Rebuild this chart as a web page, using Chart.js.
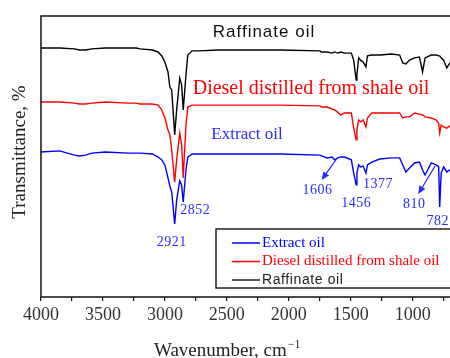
<!DOCTYPE html>
<html>
<head>
<meta charset="utf-8">
<script src="https://cdn.jsdelivr.net/npm/chart.js@4.4.1/dist/chart.umd.min.js"></script>
<style>
  html, body { margin: 0; padding: 0; background: #fff; overflow: hidden; }
  #wrap { width: 500px; height: 358px; }
</style>
</head>
<body>
<div id="wrap"><canvas id="ftirChart" width="500" height="358"></canvas></div>
<script>
// wavenumber grid shared by the three spectra, cm-1
const wavenumbers = [
  4000, 3850, 3730, 3690, 3640, 3590, 3480, 3300, 3230, 3200,
  3100, 3055, 3025, 3000, 2975, 2960, 2945, 2921, 2905, 2880,
  2865, 2852, 2830, 2815, 2780, 2720, 2570, 2310, 2070, 1750,
  1735, 1690, 1650, 1630, 1606, 1580, 1550, 1495, 1476, 1456,
  1450, 1436, 1420, 1400, 1377, 1365, 1330, 1265, 1170, 1105,
  1080, 1055, 1025, 985, 945, 920, 900, 850, 810, 790,
  782, 770, 750, 725, 700, 650, 600, 550, 500, 450,
  400
];

// transmittance (stacked, %)
const raffinateOil = [
  88.6, 88.6, 88.3, 87.9, 87.9, 88.3, 88.6, 88.6, 88.6, 88.3,
  87.9, 87.2, 85.8, 83.6, 80.1, 74.7, 73.7, 57.7, 66.6, 77.9,
  75.5, 66.6, 79.0, 86.1, 87.6, 87.6, 87.9, 87.9, 87.9, 87.6,
  87.2, 87.2, 86.8, 87.2, 86.8, 87.2, 86.8, 86.8, 84.3, 77.2,
  79.0, 85.1, 84.3, 83.6, 81.9, 85.8, 86.1, 86.1, 86.5, 86.1,
  83.3, 82.9, 84.3, 85.1, 85.4, 80.1, 85.1, 86.1, 86.1, 85.8,
  85.8, 85.1, 84.3, 81.5, 83.3, 84.3, 85.1, 85.4, 85.8, 85.4,
  85.1
];

const dieselOil = [
  69.4, 69.4, 69.0, 68.7, 68.7, 69.0, 69.4, 69.0, 69.0, 68.7,
  68.7, 68.3, 66.6, 63.7, 59.4, 57.7, 52.3, 40.9, 48.8, 58.4,
  54.1, 42.4, 61.2, 67.6, 68.3, 68.3, 68.3, 68.3, 68.3, 68.0,
  67.6, 67.6, 66.9, 66.6, 65.8, 64.8, 65.5, 65.5, 60.1, 55.9,
  59.4, 63.0, 62.3, 63.0, 60.5, 63.7, 65.5, 65.5, 65.5, 65.5,
  63.7, 64.1, 64.1, 65.5, 65.1, 64.8, 64.1, 63.7, 63.0, 61.9,
  58.4, 61.2, 60.5, 60.1, 60.9, 61.6, 62.3, 62.6, 63.0, 62.6,
  62.3
];

const extractOil = [
  51.6, 52.0, 50.5, 50.2, 50.5, 51.2, 51.6, 51.2, 51.2, 51.2,
  50.9, 49.8, 48.8, 47.0, 42.4, 39.5, 37.4, 26.0, 34.5, 41.3,
  39.9, 33.8, 45.2, 49.8, 50.9, 50.9, 50.9, 50.9, 50.9, 50.5,
  50.2, 49.5, 49.8, 48.8, 49.5, 49.8, 49.8, 48.8, 44.1, 39.9,
  44.1, 47.0, 46.3, 46.6, 44.1, 47.0, 48.0, 49.1, 49.5, 49.5,
  47.0, 44.5, 45.9, 47.7, 48.0, 45.2, 43.4, 47.7, 47.0, 46.3,
  32.0, 44.1, 46.3, 44.5, 45.2, 45.9, 46.6, 47.0, 47.3, 47.0,
  46.6
];

// assigned bands of the extract oil
const peakBands = [2921, 2852, 1606, 1456, 1377, 810, 782];
// bands marked with an arrow instead of sitting under the dip
const arrowBands = [1606, 810];

const seriesNames = ['Extract oil', 'Diesel distilled from shale oil', 'Raffinate oil'];
const seriesColors = ['#0000ff', '#ff0000', '#222222'];

const serif = '"Liberation Serif", "Times New Roman", serif';
const sans = '"Liberation Sans", Arial, sans-serif';

const toPoints = (vals) => wavenumbers.map((w, i) => ({ x: w, y: vals[i] }));

// label placement relative to each band (dx from the band, y in pixels)
const bandLabelPos = {
  2921: [-3, 242], 2852: [12, 210], 1606: [-20, 190], 1456: [0, 203],
  1377: [12, 184], 810: [-22, 204], 782: [-2, 221]
};

function drawArrow(ctx, x0, y0, x1, y1) {
  const ang = Math.atan2(y1 - y0, x1 - x0);
  ctx.beginPath();
  ctx.moveTo(x0, y0);
  ctx.lineTo(x1 - 5 * Math.cos(ang), y1 - 5 * Math.sin(ang));
  ctx.stroke();
  ctx.beginPath();
  ctx.moveTo(x1, y1);
  ctx.lineTo(x1 - 8 * Math.cos(ang) + 3.5 * Math.sin(ang), y1 - 8 * Math.sin(ang) - 3.5 * Math.cos(ang));
  ctx.lineTo(x1 - 8 * Math.cos(ang) - 3.5 * Math.sin(ang), y1 - 8 * Math.sin(ang) + 3.5 * Math.cos(ang));
  ctx.closePath();
  ctx.fill();
}

const decorations = {
  id: 'decorations',
  afterDraw(chart) {
    const { ctx, chartArea: a, scales: { x, y } } = chart;
    ctx.save();

    // frame: left, top and bottom edges
    ctx.strokeStyle = '#111';
    ctx.lineWidth = 1.5;
    ctx.beginPath();
    ctx.moveTo(a.right, a.top);
    ctx.lineTo(a.left, a.top);
    ctx.lineTo(a.left, a.bottom);
    ctx.lineTo(a.right, a.bottom);
    ctx.stroke();

    // axis titles
    ctx.fillStyle = '#222';
    ctx.textAlign = 'left';
    ctx.textBaseline = 'alphabetic';
    ctx.font = '19px ' + serif;
    ctx.fillText('Wavenumber, cm', 154, 356);
    const w = ctx.measureText('Wavenumber, cm').width;
    ctx.font = '12px ' + serif;
    ctx.fillText('\u22121', 154 + w + 1, 348);

    ctx.save();
    ctx.translate(20, 152);
    ctx.rotate(-Math.PI / 2);
    ctx.textAlign = 'center';
    ctx.textBaseline = 'middle';
    ctx.font = '19px ' + serif;
    ctx.fillText('Transmittance, %', 0, 0);
    ctx.restore();

    // spectrum names
    ctx.textAlign = 'center';
    ctx.textBaseline = 'middle';
    ctx.fillStyle = '#111';
    ctx.font = '17px ' + sans;
    ctx.letterSpacing = '1px';
    ctx.fillText('Raffinate oil', 264, 32);
    ctx.letterSpacing = '0px';
    ctx.fillStyle = '#ff0000';
    ctx.font = '20px ' + serif;
    ctx.fillText('Diesel distilled from shale oil', 311, 89);
    ctx.fillStyle = '#2a2aff';
    ctx.font = '17px ' + serif;
    ctx.fillText('Extract oil', 247, 135);

    // band labels and arrows
    ctx.font = '14px ' + serif;
    ctx.letterSpacing = '0.5px';
    ctx.fillStyle = '#2a2aff';
    ctx.strokeStyle = '#2a2aff';
    ctx.lineWidth = 1.2;
    peakBands.forEach((band) => {
      const [dx, ly] = bandLabelPos[band];
      const bx = x.getPixelForValue(band);
      ctx.fillText(String(band), bx + dx, ly);
      if (arrowBands.includes(band)) {
        const by = y.getPixelForValue(extractOil[wavenumbers.indexOf(band)]);
        drawArrow(ctx, bx - 1, by + 1, bx + dx + 4, ly - 10);
      }
    });
    ctx.letterSpacing = '0px';

    // legend box
    ctx.strokeStyle = '#222';
    ctx.lineWidth = 1.5;
    ctx.fillStyle = '#fff';
    ctx.fillRect(216, 229, 300, 59);
    ctx.strokeRect(216, 229, 300, 59);
    ctx.textAlign = 'left';
    seriesNames.forEach((name, i) => {
      const ly = 243 + i * 18.5;
      ctx.strokeStyle = seriesColors[i];
      ctx.lineWidth = 1.5;
      ctx.beginPath();
      ctx.moveTo(232, ly);
      ctx.lineTo(260, ly);
      ctx.stroke();
      ctx.fillStyle = seriesColors[i];
      if (i === 2) {
        ctx.font = '14px ' + sans;
        ctx.letterSpacing = '0.6px';
      } else {
        ctx.font = '15px ' + serif;
        ctx.letterSpacing = '0px';
      }
      ctx.fillText(name, 262, ly);
    });
    ctx.restore();
  }
};

new Chart(document.getElementById('ftirChart'), {
  type: 'line',
  data: {
    datasets: [
      { label: seriesNames[2], data: toPoints(raffinateOil), borderColor: '#000' },
      { label: seriesNames[1], data: toPoints(dieselOil), borderColor: '#ff0000' },
      { label: seriesNames[0], data: toPoints(extractOil), borderColor: '#0000ff' }
    ]
  },
  options: {
    responsive: false,
    animation: false,
    layout: { padding: { top: 16, right: 13, left: 0, bottom: 0 } },
    elements: {
      point: { radius: 0 },
      line: { borderWidth: 1.4, tension: 0 }
    },
    plugins: { legend: { display: false }, tooltip: { enabled: false } },
    scales: {
      x: {
        type: 'linear',
        reverse: true,
        min: 400,
        max: 4000,
        afterFit: (s) => { s.height = 61; },
        border: { display: false },
        grid: { drawOnChartArea: false, tickLength: 4, color: '#111', lineWidth: 1.2 },
        ticks: {
          stepSize: 250,
          autoSkip: false,
          maxRotation: 0,
          padding: 3,
          color: '#333',
          font: { family: serif, size: 18 },
          callback: (v) => (v % 500 === 0 ? String(v) : '')
        }
      },
      y: {
        min: 0,
        max: 100,
        afterFit: (s) => { s.width = 41; },
        border: { display: false },
        grid: { display: false },
        ticks: { display: false }
      }
    }
  },
  plugins: [decorations]
});
</script>
</body>
</html>
